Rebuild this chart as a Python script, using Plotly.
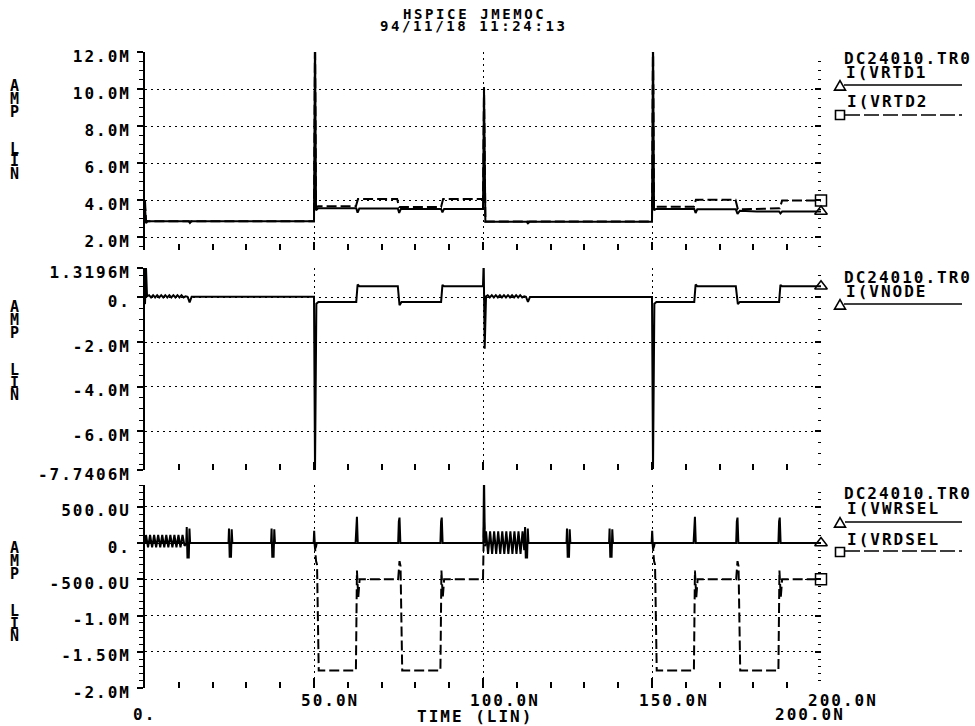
import plotly.graph_objects as go

W, H = 975, 726
FONT = "DejaVu Sans Mono"

# ---------------- waveforms (time in ns, current in mA) ----------------
# I(VRTD1) - solid, top panel
t_rtd1 = [0.0, 0.3, 0.8, 12.9, 13.3, 13.8, 50.0, 50.3, 50.6, 51.2,
          62.5, 62.9, 63.4, 74.8, 75.2, 75.7, 87.6, 88.0, 88.5,
          100.0, 100.3, 100.7, 112.9, 113.3, 113.8,
          150.0, 150.3, 150.6, 151.2, 162.5, 162.9, 163.4,
          174.8, 175.3, 176.0, 181.0, 187.6, 188.0, 188.5, 200.0]
i_rtd1 = [3.6, 2.75, 2.86, 2.86, 2.76, 2.86, 2.86, 13.0, 3.45, 3.56,
          3.56, 3.32, 3.54, 3.54, 3.30, 3.52, 3.52, 3.34, 3.52,
          3.52, 10.1, 2.82, 2.82, 2.74, 2.82,
          2.82, 13.0, 3.45, 3.52, 3.52, 3.30, 3.50,
          3.50, 3.25, 3.42, 3.38, 3.38, 3.28, 3.38, 3.38]

# I(VRTD2) - dashed, top panel
t_rtd2 = [0.0, 0.3, 0.8, 50.0, 50.3, 50.6, 51.2, 62.4, 63.0, 74.6, 75.2,
          87.6, 88.2, 100.0, 100.3, 100.7, 150.0, 150.3, 150.6, 151.2,
          162.4, 163.0, 174.7, 175.4, 187.8, 188.5, 200.0]
i_rtd2 = [3.95, 2.9, 2.86, 2.86, 13.0, 3.6, 3.66, 3.66, 4.05, 4.05, 3.62,
          3.62, 4.05, 4.05, 10.1, 2.84, 2.84, 13.0, 3.6, 3.64,
          3.64, 4.02, 4.02, 3.5, 3.55, 3.98, 3.98]

# I(VNODE) - solid, middle panel
t_node = [0.0, 0.3, 0.6,
          1.2, 1.8, 2.4, 3.0, 3.6, 4.2, 4.8, 5.4, 6.0, 6.6, 7.2, 7.8, 8.4,
          9.0, 9.6, 10.2, 10.8, 11.4, 12.0,
          12.6, 13.2, 13.8,
          50.0, 50.3, 50.7, 51.3,
          62.5, 62.9, 63.4,
          74.8, 75.3, 75.9,
          87.6, 88.0, 88.5,
          100.0, 100.2, 100.5, 100.9,
          101.4, 102.0, 102.6, 103.2, 103.8, 104.4, 105.0, 105.6, 106.2,
          106.8, 107.4, 108.0, 108.6, 109.2, 109.8, 110.4, 111.0, 111.6, 112.2,
          112.7, 113.3, 113.9,
          150.0, 150.3, 150.7, 151.3,
          162.5, 162.9, 163.4,
          174.8, 175.4, 176.0,
          187.6, 188.0, 188.5,
          200.0]
i_node = [-0.3, 1.3196, 0.05,
          0.1, 0.0, 0.1, 0.0, 0.1, 0.0, 0.1, 0.0, 0.1, 0.0, 0.1, 0.0, 0.1,
          0.0, 0.1, 0.0, 0.1, 0.0, 0.05,
          0.03, -0.22, 0.03,
          0.03, -7.7406, -0.28, -0.2,
          -0.2, 0.58, 0.5,
          0.5, -0.35, -0.2,
          -0.2, 0.56, 0.5,
          0.5, 1.6, -2.3, 0.05,
          0.1, 0.0, 0.1, 0.0, 0.1, 0.0, 0.1, 0.0, 0.1,
          0.0, 0.1, 0.0, 0.1, 0.0, 0.1, 0.0, 0.1, 0.0, 0.05,
          0.03, -0.2, 0.02,
          0.02, -7.70, -0.28, -0.2,
          -0.2, 0.58, 0.5,
          0.5, -0.3, -0.2,
          -0.2, 0.56, 0.5,
          0.5]

# I(VWRSEL) - solid, bottom panel
t_wrsel = [0.0, 0.3, 0.9, 1.5, 2.1, 2.7, 3.3, 3.9, 4.5, 5.1, 5.7, 6.3, 6.9,
           7.5, 8.1, 8.7, 9.3, 9.9, 10.5, 11.1, 11.7,
           12.2, 12.35, 12.55, 12.95, 13.15, 13.35,
           24.7, 24.85, 25.05, 25.45, 25.65, 25.85,
           37.3, 37.45, 37.65, 38.05, 38.25, 38.45,
           49.9, 50.05, 50.3, 50.6, 50.8,
           62.3, 62.5, 62.7, 62.95,
           74.9, 75.1, 75.3, 75.55,
           87.4, 87.6, 87.8, 88.05,
           100.1, 100.3, 100.55,
           100.9, 101.5, 102.1, 102.7, 103.3, 103.9, 104.5, 105.1, 105.7, 106.3,
           106.9, 107.5, 108.1, 108.7, 109.3, 109.9, 110.5, 111.1, 111.7, 112.2,
           112.45, 112.65, 113.05, 113.25, 113.45,
           124.7, 124.85, 125.05, 125.45, 125.65, 125.85,
           137.3, 137.45, 137.65, 138.05, 138.25, 138.45,
           149.9, 150.05, 150.3, 150.6, 150.8,
           162.3, 162.5, 162.7, 162.95,
           174.9, 175.1, 175.3, 175.55,
           187.4, 187.6, 187.8, 188.05,
           200.0]
i_wrsel = [0.0, 0.11, -0.06, 0.11, -0.06, 0.11, -0.06, 0.11, -0.06, 0.11, -0.06, 0.11, -0.06,
           0.11, -0.06, 0.11, -0.06, 0.11, -0.06, 0.11, -0.04,
           0.0, 0.22, -0.2, -0.2, 0.2, 0.0,
           0.0, 0.2, -0.19, -0.19, 0.19, 0.0,
           0.0, 0.2, -0.19, -0.19, 0.19, 0.0,
           0.0, 0.17, -0.08, -0.05, 0.0,
           0.0, 0.3, 0.36, 0.0,
           0.0, 0.3, 0.35, 0.0,
           0.0, 0.3, 0.35, 0.0,
           0.0, 0.95, 0.0,
           0.16, -0.15, 0.16, -0.15, 0.16, -0.15, 0.16, -0.15, 0.16, -0.15,
           0.16, -0.15, 0.16, -0.15, 0.16, -0.15, 0.16, -0.15, 0.16, -0.1,
           0.22, -0.2, -0.2, 0.2, 0.0,
           0.0, 0.2, -0.19, -0.19, 0.19, 0.0,
           0.0, 0.2, -0.19, -0.19, 0.19, 0.0,
           0.0, 0.17, -0.08, -0.05, 0.0,
           0.0, 0.3, 0.36, 0.0,
           0.0, 0.3, 0.35, 0.0,
           0.0, 0.3, 0.35, 0.0,
           0.0]

# I(VRDSEL) - dashed, bottom panel
t_rdsel = [0.0, 50.2, 50.6, 50.9, 51.4, 62.4, 62.7, 63.1, 63.5, 74.9, 75.3, 75.6, 76.1,
           87.4, 87.7, 88.1, 88.5, 100.0, 100.3, 100.6, 101.0,
           150.2, 150.6, 150.9, 151.4, 162.4, 162.7, 163.1, 163.5, 174.9, 175.3, 175.6, 176.1,
           187.4, 187.7, 188.1, 188.5, 200.0]
i_rdsel = [0.0, 0.0, -0.25, -0.3, -1.76, -1.76, -0.38, -0.75, -0.5, -0.5, -0.25, -0.32, -1.76,
           -1.76, -0.38, -0.75, -0.5, -0.5, 0.3, -0.05, 0.0,
           0.0, -0.25, -0.3, -1.76, -1.76, -0.38, -0.75, -0.5, -0.5, -0.25, -0.32, -1.76,
           -1.76, -0.38, -0.75, -0.5, -0.5]

# ---------------- axis labelling ----------------
top_range = [1.3, 12.0]
top_tick_vals = [2, 4, 6, 8, 10, 12]
top_tick_text = ["2.0M", "4.0M", "6.0M", "8.0M", "10.0M", "12.0M"]

mid_range = [-7.7406, 1.3196]
mid_tick_vals = [1.3196, 0, -2, -4, -6, -7.7406]
mid_tick_text = ["1.3196M", "0.", "-2.0M", "-4.0M", "-6.0M", "-7.7406M"]
mid_grid_vals = [0, -2, -4, -6]

bot_range = [-2.0, 0.8]
bot_tick_vals = [0.5, 0, -0.5, -1.0, -1.5, -2.0]
bot_tick_text = ["500.0U", "0.", "-500.0U", "-1.0M", "-1.50M", "-2.0M"]

time_range = [0, 200]
time_grid_vals = [50, 100, 150]
time_tick_vals = [50, 100, 150, 200]
time_tick_text = ["50.0N", "100.0N", "150.0N", "200.0N"]

title_lines = ["HSPICE JMEMOC", "94/11/18 11:24:13"]
file_label = "DC24010.TR0"


def sp(s, ls=2.0):
    return f'<span style="letter-spacing:{ls}px">{s}</span>'


def py(p):
    return 1 - p / H


X_DOM = [145 / W, 821 / W]
GRID = dict(showgrid=True, gridcolor="black", gridwidth=1.4, griddash="2px,4px")


def x_axis(anchor, major_len):
    return dict(domain=X_DOM, anchor=anchor, range=time_range, tickmode="array",
                tickvals=time_grid_vals, showticklabels=False, ticks="inside",
                ticklen=major_len, tickwidth=2, tickcolor="black", zeroline=False,
                showline=False, fixedrange=True, automargin=False,
                minor=dict(tickmode="linear", tick0=0, dtick=10, ticks="inside",
                           ticklen=6, tickwidth=1.5, tickcolor="black", showgrid=False),
                **GRID)


def grid_y(anchor, dom, rng, vals, minor_dt):
    # right-hand axis: carries the dotted grid and the right edge tick marks
    return dict(domain=dom, anchor=anchor, side="right", range=rng, tickmode="array",
                tickvals=vals, showticklabels=False, ticks="inside", ticklen=6,
                tickwidth=1.5, tickcolor="black", zeroline=False, showline=False,
                fixedrange=True, automargin=False,
                minor=dict(tickmode="linear", tick0=0, dtick=minor_dt, ticks="inside",
                           ticklen=3, tickwidth=1.2, tickcolor="black", showgrid=False),
                **GRID)


def label_y(over, anchor, dom, rng, vals, text, minor_dt):
    # left-hand axis: solid spine, tick marks and value labels
    return dict(overlaying=over, anchor=anchor, side="left", domain=dom, range=rng,
                tickmode="array", tickvals=vals, ticktext=[sp(s) for s in text],
                tickfont=dict(family=FONT, size=16, color="black", weight="bold"),
                ticks="outside", ticklen=6, tickwidth=1.5, tickcolor="black",
                showline=True, linecolor="black", linewidth=1.6, showgrid=False,
                zeroline=False, ticklabelshift=4, ticklabelstandoff=3, fixedrange=True,
                automargin=False,
                minor=dict(tickmode="linear", tick0=0, dtick=minor_dt, ticks="outside",
                           ticklen=4, tickwidth=1.2, tickcolor="black"))


fig = go.Figure()


def add_curve(t, i, xa, ya, dash, symbol):
    fig.add_trace(go.Scatter(x=t, y=i, xaxis=xa, yaxis=ya, mode="lines",
                             line=dict(color="black", width=2, dash=dash),
                             showlegend=False, hoverinfo="skip"))
    fig.add_trace(go.Scatter(x=[t[-1]], y=[i[-1]], xaxis=xa, yaxis=ya, mode="markers",
                             marker=dict(symbol=symbol, size=11, color="black",
                                         line=dict(color="black", width=1.5)),
                             cliponaxis=False, showlegend=False, hoverinfo="skip"))


add_curve(t_rtd1, i_rtd1, "x", "y", "solid", "triangle-up-open")
add_curve(t_rtd2, i_rtd2, "x", "y", "10px,4px", "square-open")
add_curve(t_node, i_node, "x2", "y2", "solid", "triangle-up-open")
add_curve(t_wrsel, i_wrsel, "x3", "y3", "solid", "triangle-up-open")
add_curve(t_rdsel, i_rdsel, "x3", "y3", "10px,4px", "square-open")

# empty traces so the labelled left-hand axes are laid out
for xa, ya in (("x", "y4"), ("x2", "y5"), ("x3", "y6")):
    fig.add_trace(go.Scatter(x=[None], y=[None], xaxis=xa, yaxis=ya, mode="lines",
                             showlegend=False, hoverinfo="skip"))

top_dom = [py(250), py(52)]
mid_dom = [py(470), py(268)]
bot_dom = [py(688), py(485)]

fig.update_layout(
    width=W, height=H, margin=dict(l=0, r=0, t=0, b=0, autoexpand=False),
    paper_bgcolor="white", plot_bgcolor="white", showlegend=False,
    xaxis=x_axis("y", 8), xaxis2=x_axis("y2", 8), xaxis3=x_axis("y3", 10),
    yaxis=grid_y("x", top_dom, top_range, top_tick_vals, 0.5),
    yaxis2=grid_y("x2", mid_dom, mid_range, mid_grid_vals, 0.5),
    yaxis3=grid_y("x3", bot_dom, bot_range, bot_tick_vals, 0.1),
    yaxis4=label_y("y", "x", top_dom, top_range, top_tick_vals, top_tick_text, 0.5),
    yaxis5=label_y("y2", "x2", mid_dom, mid_range, mid_tick_vals, mid_tick_text, 0.5),
    yaxis6=label_y("y3", "x3", bot_dom, bot_range, bot_tick_vals, bot_tick_text, 0.1),
)


def note(text, x, y, size=16, xanchor="left", xref="paper", xshift=0, ls=2.0):
    return dict(text=sp(text, ls), x=(x / W if xref == "paper" else x), y=py(y),
                xref=xref, yref="paper", xanchor=xanchor, yanchor="middle",
                showarrow=False, xshift=xshift,
                font=dict(family=FONT, size=size, color="black", weight="bold"))


ann = []
# header
ann.append(note(title_lines[0], 474, 14, size=14, xanchor="center", ls=2.6))
ann.append(note(title_lines[1], 474, 26, size=14, xanchor="center", ls=2.6))

# vertical "AMP LIN" unit captions, one letter per row
for y0 in (86, 307, 548):
    for k, ch in enumerate("AMP"):
        ann.append(note(ch, 14, y0 + 13 * k, size=15, xanchor="center", ls=0))
    for k, ch in enumerate("LIN"):
        ann.append(note(ch, 14, y0 + 63 + 12.5 * k, size=15, xanchor="center", ls=0))

# time axis labels
for v, s in zip(time_tick_vals, time_tick_text):
    ann.append(note(s, v, 700, xref="x3", xshift=-15))
ann.append(note("0.", 0, 714, xref="x3", xshift=-14))
ann.append(note("TIME (LIN)", 415, 716))
ann.append(note(time_tick_text[-1], 200, 714, xref="x3", xshift=-48))

# curve keys
ann.append(note(file_label, 842, 58))
ann.append(note("I(VRTD1", 844, 72))
ann.append(note("I(VRTD2", 845, 102))
ann.append(note(file_label, 842, 277))
ann.append(note("I(VNODE", 844, 291))
ann.append(note(file_label, 842, 493))
ann.append(note("I(VWRSEL", 845, 508))
ann.append(note("I(VRDSEL", 845, 539))
fig.update_layout(annotations=ann)


def key_line(x0, x1, y, dash):
    return dict(type="line", xref="paper", yref="paper", x0=x0 / W, x1=x1 / W,
                y0=py(y), y1=py(y), line=dict(color="black", width=1.6, dash=dash))


def key_tri(cx, cy, r=5.5):
    path = (f"M {(cx - r) / W},{py(cy + r * 0.75)} L {(cx + r) / W},{py(cy + r * 0.75)} "
            f"L {cx / W},{py(cy - r)} Z")
    return dict(type="path", xref="paper", yref="paper", path=path,
                line=dict(color="black", width=1.6))


def key_sq(cx, cy, r=4.5):
    return dict(type="rect", xref="paper", yref="paper", x0=(cx - r) / W, x1=(cx + r) / W,
                y0=py(cy + r), y1=py(cy - r), line=dict(color="black", width=1.6))


shapes = [
    key_line(844, 962, 85, "solid"), key_tri(840, 86),
    key_line(845, 962, 115, "15px,4px"), key_sq(840, 115),
    key_line(844, 962, 304, "solid"), key_tri(840, 305),
    key_line(845, 962, 522, "solid"), key_tri(840, 523),
    key_line(845, 962, 551, "15px,4px"), key_sq(840, 552),
]
fig.update_layout(shapes=shapes)

fig.write_html("out.html")
